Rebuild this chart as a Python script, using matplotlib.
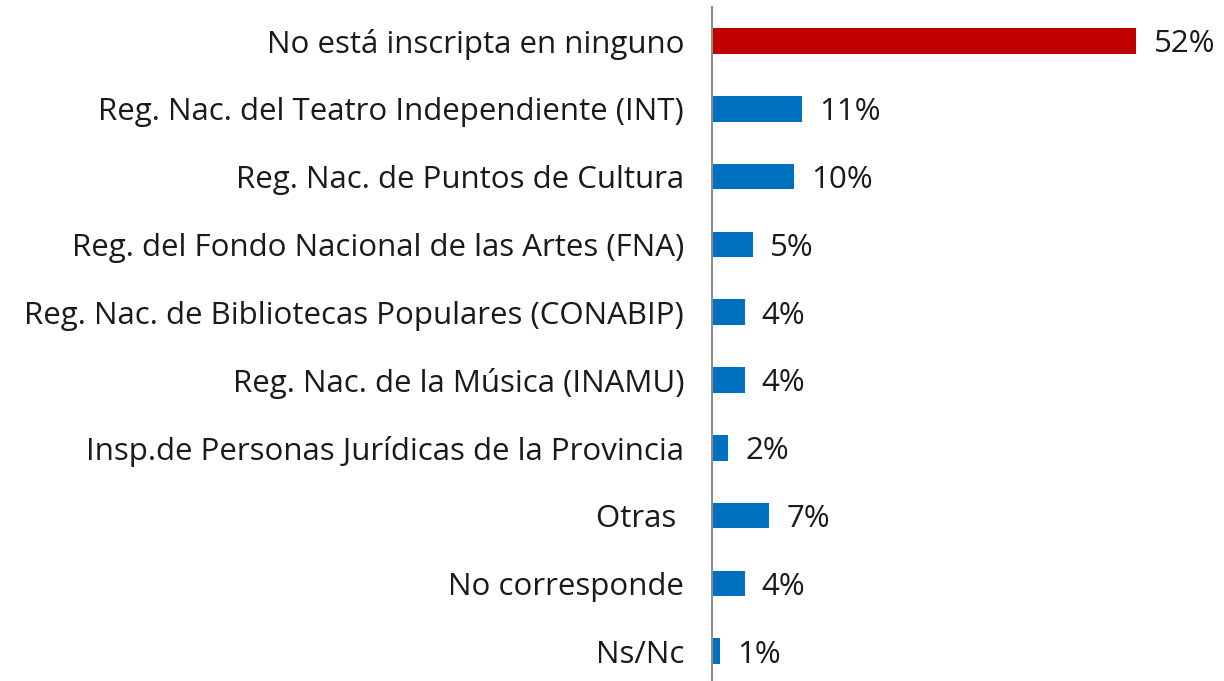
import matplotlib.pyplot as plt

# Categories and values (%), top to bottom
categorias = [
    'No está inscripta en ninguno',
    'Reg. Nac. del Teatro Independiente (INT)',
    'Reg. Nac. de Puntos de Cultura',
    'Reg. del Fondo Nacional de las Artes (FNA)',
    'Reg. Nac. de Bibliotecas Populares (CONABIP)',
    'Reg. Nac. de la Música (INAMU)',
    'Insp.de Personas Jurídicas de la Provincia',
    'Otras ',
    'No corresponde',
    'Ns/Nc',
]
valores = [52, 11, 10, 5, 4, 4, 2, 7, 4, 1]
colores = ['#C00000'] + ['#0070C0'] * 9

plt.rcParams['font.family'] = ['Open Sans', 'DejaVu Sans']

fig = plt.figure(figsize=(12.24, 6.81), dpi=100)
ax = fig.add_axes([0.5817, -0.006, 0.40, 0.9956])

y = list(range(len(categorias)))
ax.barh(y, valores, height=0.38, color=colores)
ax.set_ylim(len(categorias) - 0.5, -0.5)
ax.set_xlim(0, 60)

for yi, v in zip(y, valores):
    ax.text(v + 2.1, yi, f'{v}%', va='center_baseline', ha='left',
            fontsize=22.5, color='#1a1a1a')

ax.set_yticks(y)
ax.set_yticklabels(categorias, fontsize=22.5, color='#1a1a1a')
for lbl in ax.get_yticklabels():
    lbl.set_verticalalignment('center_baseline')
ax.tick_params(axis='y', length=0, pad=20)
ax.set_xticks([])

for s in ['top', 'right', 'bottom']:
    ax.spines[s].set_visible(False)
ax.spines['left'].set_color('#8c8c8c')
ax.spines['left'].set_linewidth(1.5)

fig.savefig('out.png', dpi=100)
